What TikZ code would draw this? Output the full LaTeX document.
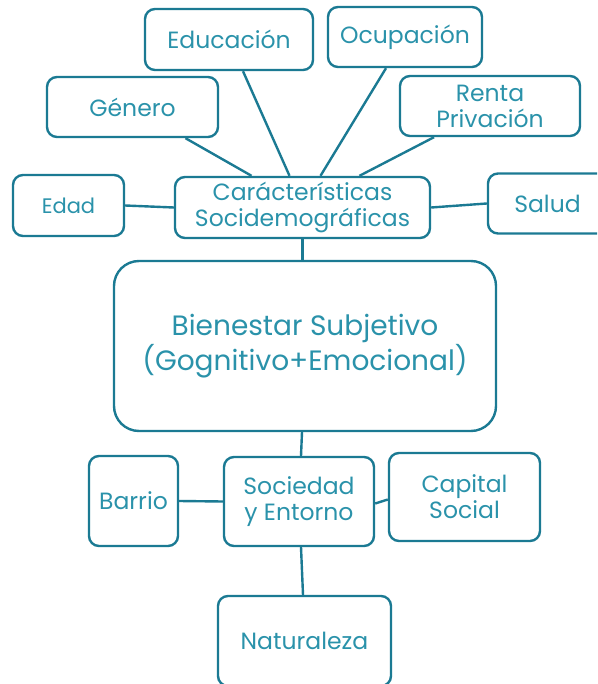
\documentclass[tikz,border=0pt]{standalone}
\usepackage{fontspec}
\setmainfont{Poppins}
\usepackage{tikz}

\definecolor{tealline}{RGB}{27,122,147}
\definecolor{tealtext}{RGB}{42,146,170}

\tikzset{
  box/.style={draw=tealline, line width=2.4pt, rounded corners=10pt,
    text=tealtext, align=center, inner sep=2pt, font=\fontsize{23.5}{26}\selectfont},
  link/.style={draw=tealline, line width=2.4pt}
}

\begin{document}
\begin{tikzpicture}[x=1pt,y=-1pt]
    \clip (0,0) rectangle (597,684);

    % Caracteristicas y sus factores
    \node[box, minimum width=255pt, minimum height=61pt] (car) at (302.5,207.5) {Carácterísticas\\Socidemográficas};
    \node[box, minimum width=168pt, minimum height=61pt] (edu) at (229,39.5) {Educación};
    \node[box, minimum width=154pt, minimum height=60pt] (ocu) at (405,37) {Ocupación};
    \node[box, minimum width=171pt, minimum height=60pt] (gen) at (132.5,107) {Género};
    \node[box, minimum width=180pt, minimum height=60pt] (ren) at (490,106) {Renta\\Privación};
    \node[box, minimum width=111pt, minimum height=61pt, font=\fontsize{21}{24}\selectfont] (eda) at (68.5,205.5) {Edad};
    \node[box, minimum width=122pt, minimum height=60pt] (sal) at (549,203.5) {\hspace*{-2pt}Salud\hspace*{1pt}};

    % Bienestar
    \node[box, minimum width=382pt, minimum height=170pt, rounded corners=25pt,
      font=\fontsize{28}{32}\selectfont] (bie) at (305,346) {Bienestar Subjetivo\\(Gognitivo+Emocional)};

    % Sociedad y sus factores
    \node[box, minimum width=150pt, minimum height=89pt] (soc) at (299,501.5) {Sociedad\\y Entorno};
    \node[box, minimum width=89pt, minimum height=90pt] (bar) at (133.5,501) {Barrio};
    \node[box, minimum width=151pt, minimum height=88pt] (cap) at (464.5,497) {Capital\\Social};
    \node[box, minimum width=173pt, minimum height=90pt] (nat) at (304.5,641) {Naturaleza};

    % Conectores
    \draw[link] (eda.east) -- (car.west);
    \draw[link] (car.east) -- (sal.west);
    \draw[link] ([xshift=53pt]gen.south) -- ([xshift=-51pt]car.north);
    \draw[link] ([xshift=14pt]edu.south) -- ([xshift=-13pt]car.north);
    \draw[link] ([xshift=-19pt]ocu.south) -- ([xshift=18pt]car.north);
    \draw[link] ([xshift=-56pt]ren.south) -- ([xshift=57pt]car.north);
    \draw[link] (car.south) -- (bie.north -| car.south);
    \draw[link] ([xshift=-3pt]bie.south) -- ([xshift=2pt]soc.north);
    \draw[link] (bar.east) -- (soc.west);
    \draw[link] ([yshift=-2pt]soc.east) -- (cap.west |- 0,499.5);
    \draw[link] ([xshift=2pt]soc.south) -- ([xshift=-1.5pt]nat.north);

\end{tikzpicture}
\end{document}
